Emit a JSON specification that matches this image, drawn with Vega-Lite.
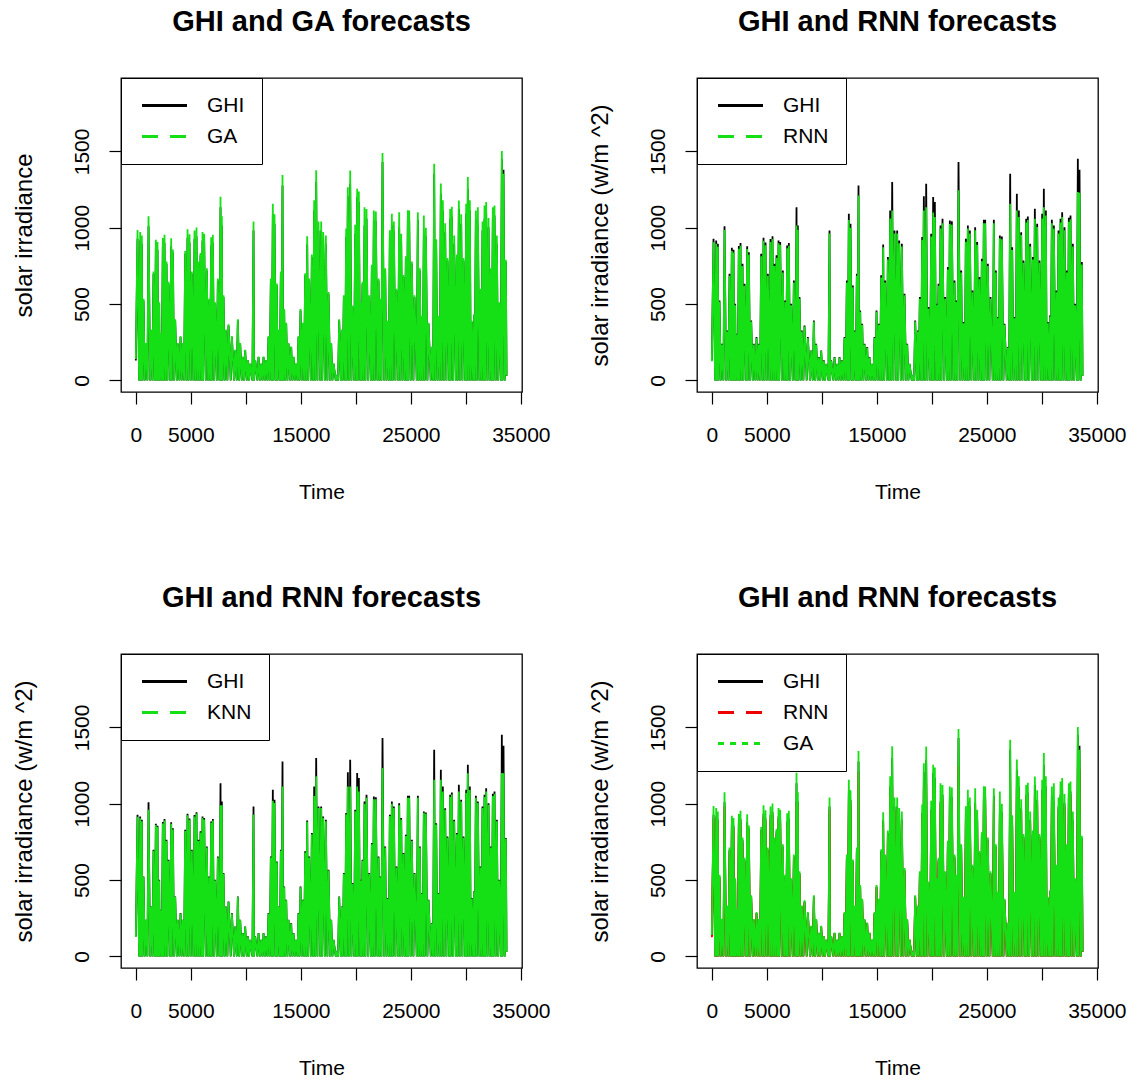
{
 "$schema": "https://vega.github.io/schema/vega-lite/v6.json",
 "background": "white",
 "padding": {"left": 11, "top": 6, "right": 5, "bottom": 0},
 "data": {"values": [
{"t":0,"GHI":130,"GA":140,"RNN":125,"KNN":128},
{"t":152,"GHI":928,"GA":985,"RNN":905,"KNN":915},
{"t":294,"GHI":0,"GA":0,"RNN":0,"KNN":0},
{"t":394,"GHI":917,"GA":972,"RNN":895,"KNN":905},
{"t":445,"GHI":0,"GA":0,"RNN":0,"KNN":0},
{"t":545,"GHI":895,"GA":950,"RNN":875,"KNN":885},
{"t":597,"GHI":0,"GA":0,"RNN":0,"KNN":0},
{"t":697,"GHI":524,"GA":535,"RNN":515,"KNN":520},
{"t":809,"GHI":0,"GA":0,"RNN":0,"KNN":0},
{"t":909,"GHI":240,"GA":245,"RNN":235,"KNN":238},
{"t":1052,"GHI":0,"GA":0,"RNN":0,"KNN":0},
{"t":1152,"GHI":1009,"GA":1075,"RNN":985,"KNN":960},
{"t":1294,"GHI":0,"GA":0,"RNN":0,"KNN":0},
{"t":1394,"GHI":327,"GA":334,"RNN":320,"KNN":324},
{"t":1506,"GHI":0,"GA":0,"RNN":0,"KNN":0},
{"t":1606,"GHI":699,"GA":713,"RNN":685,"KNN":692},
{"t":1718,"GHI":0,"GA":0,"RNN":0,"KNN":0},
{"t":1818,"GHI":869,"GA":921,"RNN":850,"KNN":860},
{"t":1870,"GHI":0,"GA":0,"RNN":0,"KNN":0},
{"t":1970,"GHI":856,"GA":907,"RNN":838,"KNN":847},
{"t":2021,"GHI":0,"GA":0,"RNN":0,"KNN":0},
{"t":2121,"GHI":502,"GA":512,"RNN":492,"KNN":497},
{"t":2173,"GHI":0,"GA":0,"RNN":0,"KNN":0},
{"t":2273,"GHI":306,"GA":312,"RNN":300,"KNN":303},
{"t":2354,"GHI":0,"GA":0,"RNN":0,"KNN":0},
{"t":2454,"GHI":880,"GA":933,"RNN":862,"KNN":871},
{"t":2506,"GHI":0,"GA":0,"RNN":0,"KNN":0},
{"t":2606,"GHI":900,"GA":954,"RNN":882,"KNN":891},
{"t":2688,"GHI":0,"GA":0,"RNN":0,"KNN":0},
{"t":2788,"GHI":764,"GA":779,"RNN":749,"KNN":756},
{"t":2870,"GHI":0,"GA":0,"RNN":0,"KNN":0},
{"t":2970,"GHI":633,"GA":646,"RNN":620,"KNN":627},
{"t":3112,"GHI":0,"GA":0,"RNN":0,"KNN":0},
{"t":3212,"GHI":878,"GA":931,"RNN":860,"KNN":869},
{"t":3263,"GHI":0,"GA":0,"RNN":0,"KNN":0},
{"t":3363,"GHI":840,"GA":857,"RNN":823,"KNN":832},
{"t":3476,"GHI":0,"GA":0,"RNN":0,"KNN":0},
{"t":3576,"GHI":393,"GA":401,"RNN":385,"KNN":389},
{"t":3718,"GHI":0,"GA":0,"RNN":0,"KNN":0},
{"t":3818,"GHI":240,"GA":245,"RNN":235,"KNN":238},
{"t":3961,"GHI":0,"GA":0,"RNN":0,"KNN":0},
{"t":4061,"GHI":284,"GA":290,"RNN":278,"KNN":281},
{"t":4173,"GHI":0,"GA":0,"RNN":0,"KNN":0},
{"t":4273,"GHI":240,"GA":245,"RNN":235,"KNN":238},
{"t":4385,"GHI":0,"GA":0,"RNN":0,"KNN":0},
{"t":4485,"GHI":830,"GA":847,"RNN":813,"KNN":822},
{"t":4597,"GHI":0,"GA":0,"RNN":0,"KNN":0},
{"t":4697,"GHI":934,"GA":990,"RNN":915,"KNN":925},
{"t":4779,"GHI":0,"GA":0,"RNN":0,"KNN":0},
{"t":4879,"GHI":904,"GA":958,"RNN":886,"KNN":895},
{"t":4991,"GHI":0,"GA":0,"RNN":0,"KNN":0},
{"t":5091,"GHI":699,"GA":713,"RNN":685,"KNN":692},
{"t":5233,"GHI":0,"GA":0,"RNN":0,"KNN":0},
{"t":5333,"GHI":926,"GA":982,"RNN":907,"KNN":917},
{"t":5415,"GHI":0,"GA":0,"RNN":0,"KNN":0},
{"t":5515,"GHI":945,"GA":1002,"RNN":926,"KNN":936},
{"t":5597,"GHI":0,"GA":0,"RNN":0,"KNN":0},
{"t":5697,"GHI":764,"GA":779,"RNN":749,"KNN":756},
{"t":5779,"GHI":0,"GA":0,"RNN":0,"KNN":0},
{"t":5879,"GHI":819,"GA":835,"RNN":803,"KNN":811},
{"t":5961,"GHI":0,"GA":0,"RNN":0,"KNN":0},
{"t":6061,"GHI":917,"GA":972,"RNN":899,"KNN":908},
{"t":6112,"GHI":0,"GA":0,"RNN":0,"KNN":0},
{"t":6212,"GHI":906,"GA":960,"RNN":888,"KNN":897},
{"t":6355,"GHI":0,"GA":0,"RNN":0,"KNN":0},
{"t":6455,"GHI":720,"GA":734,"RNN":706,"KNN":713},
{"t":6567,"GHI":0,"GA":0,"RNN":0,"KNN":0},
{"t":6667,"GHI":524,"GA":534,"RNN":514,"KNN":519},
{"t":6748,"GHI":0,"GA":0,"RNN":0,"KNN":0},
{"t":6848,"GHI":884,"GA":937,"RNN":866,"KNN":875},
{"t":6900,"GHI":0,"GA":0,"RNN":0,"KNN":0},
{"t":7000,"GHI":900,"GA":954,"RNN":882,"KNN":891},
{"t":7112,"GHI":0,"GA":0,"RNN":0,"KNN":0},
{"t":7212,"GHI":502,"GA":512,"RNN":492,"KNN":497},
{"t":7355,"GHI":0,"GA":0,"RNN":0,"KNN":0},
{"t":7455,"GHI":655,"GA":668,"RNN":642,"KNN":648},
{"t":7597,"GHI":0,"GA":0,"RNN":0,"KNN":0},
{"t":7697,"GHI":1135,"GA":1203,"RNN":1015,"KNN":990},
{"t":7740,"GHI":0,"GA":0,"RNN":0,"KNN":0},
{"t":7818,"GHI":1015,"GA":1076,"RNN":985,"KNN":990},
{"t":7870,"GHI":0,"GA":0,"RNN":0,"KNN":0},
{"t":7970,"GHI":546,"GA":557,"RNN":535,"KNN":541},
{"t":8082,"GHI":0,"GA":0,"RNN":0,"KNN":0},
{"t":8182,"GHI":327,"GA":334,"RNN":320,"KNN":324},
{"t":8324,"GHI":0,"GA":0,"RNN":0,"KNN":0},
{"t":8424,"GHI":360,"GA":367,"RNN":353,"KNN":356},
{"t":8627,"GHI":0,"GA":0,"RNN":0,"KNN":0},
{"t":8727,"GHI":284,"GA":290,"RNN":278,"KNN":281},
{"t":8930,"GHI":0,"GA":0,"RNN":0,"KNN":0},
{"t":9030,"GHI":196,"GA":200,"RNN":192,"KNN":194},
{"t":9173,"GHI":0,"GA":0,"RNN":0,"KNN":0},
{"t":9273,"GHI":393,"GA":401,"RNN":385,"KNN":389},
{"t":9385,"GHI":0,"GA":0,"RNN":0,"KNN":0},
{"t":9485,"GHI":240,"GA":245,"RNN":235,"KNN":238},
{"t":9627,"GHI":0,"GA":0,"RNN":0,"KNN":0},
{"t":9727,"GHI":153,"GA":156,"RNN":150,"KNN":151},
{"t":9839,"GHI":0,"GA":0,"RNN":0,"KNN":0},
{"t":9939,"GHI":196,"GA":200,"RNN":192,"KNN":194},
{"t":10082,"GHI":0,"GA":0,"RNN":0,"KNN":0},
{"t":10182,"GHI":131,"GA":134,"RNN":128,"KNN":130},
{"t":10294,"GHI":0,"GA":0,"RNN":0,"KNN":0},
{"t":10394,"GHI":109,"GA":111,"RNN":107,"KNN":108},
{"t":10597,"GHI":0,"GA":0,"RNN":0,"KNN":0},
{"t":10697,"GHI":982,"GA":1041,"RNN":962,"KNN":930},
{"t":10748,"GHI":0,"GA":0,"RNN":0,"KNN":0},
{"t":10848,"GHI":131,"GA":134,"RNN":128,"KNN":130},
{"t":11052,"GHI":0,"GA":0,"RNN":0,"KNN":0},
{"t":11152,"GHI":153,"GA":156,"RNN":150,"KNN":151},
{"t":11294,"GHI":0,"GA":0,"RNN":0,"KNN":0},
{"t":11394,"GHI":109,"GA":111,"RNN":107,"KNN":108},
{"t":11506,"GHI":0,"GA":0,"RNN":0,"KNN":0},
{"t":11606,"GHI":153,"GA":156,"RNN":150,"KNN":151},
{"t":11718,"GHI":0,"GA":0,"RNN":0,"KNN":0},
{"t":11818,"GHI":131,"GA":134,"RNN":128,"KNN":130},
{"t":11961,"GHI":0,"GA":0,"RNN":0,"KNN":0},
{"t":12061,"GHI":284,"GA":290,"RNN":278,"KNN":281},
{"t":12173,"GHI":0,"GA":0,"RNN":0,"KNN":0},
{"t":12273,"GHI":655,"GA":668,"RNN":642,"KNN":648},
{"t":12354,"GHI":0,"GA":0,"RNN":0,"KNN":0},
{"t":12454,"GHI":1092,"GA":1158,"RNN":1050,"KNN":1020},
{"t":12506,"GHI":0,"GA":0,"RNN":0,"KNN":0},
{"t":12606,"GHI":1026,"GA":1088,"RNN":1000,"KNN":1005},
{"t":12718,"GHI":0,"GA":0,"RNN":0,"KNN":0},
{"t":12818,"GHI":622,"GA":634,"RNN":610,"KNN":616},
{"t":12870,"GHI":0,"GA":0,"RNN":0,"KNN":0},
{"t":12970,"GHI":327,"GA":334,"RNN":320,"KNN":324},
{"t":13082,"GHI":0,"GA":0,"RNN":0,"KNN":0},
{"t":13182,"GHI":699,"GA":713,"RNN":685,"KNN":692},
{"t":13233,"GHI":0,"GA":0,"RNN":0,"KNN":0},
{"t":13333,"GHI":1277,"GA":1345,"RNN":1212,"KNN":1113},
{"t":13385,"GHI":0,"GA":0,"RNN":0,"KNN":0},
{"t":13485,"GHI":458,"GA":467,"RNN":449,"KNN":453},
{"t":13567,"GHI":0,"GA":0,"RNN":0,"KNN":0},
{"t":13667,"GHI":371,"GA":378,"RNN":364,"KNN":367},
{"t":13779,"GHI":0,"GA":0,"RNN":0,"KNN":0},
{"t":13879,"GHI":240,"GA":245,"RNN":235,"KNN":238},
{"t":14021,"GHI":0,"GA":0,"RNN":0,"KNN":0},
{"t":14121,"GHI":218,"GA":222,"RNN":214,"KNN":216},
{"t":14233,"GHI":0,"GA":0,"RNN":0,"KNN":0},
{"t":14333,"GHI":153,"GA":156,"RNN":150,"KNN":151},
{"t":14445,"GHI":0,"GA":0,"RNN":0,"KNN":0},
{"t":14545,"GHI":109,"GA":111,"RNN":107,"KNN":108},
{"t":14688,"GHI":0,"GA":0,"RNN":0,"KNN":0},
{"t":14788,"GHI":284,"GA":290,"RNN":278,"KNN":281},
{"t":14870,"GHI":0,"GA":0,"RNN":0,"KNN":0},
{"t":14970,"GHI":458,"GA":467,"RNN":449,"KNN":453},
{"t":15082,"GHI":0,"GA":0,"RNN":0,"KNN":0},
{"t":15182,"GHI":371,"GA":378,"RNN":364,"KNN":367},
{"t":15294,"GHI":0,"GA":0,"RNN":0,"KNN":0},
{"t":15394,"GHI":688,"GA":702,"RNN":674,"KNN":681},
{"t":15476,"GHI":0,"GA":0,"RNN":0,"KNN":0},
{"t":15576,"GHI":891,"GA":944,"RNN":873,"KNN":882},
{"t":15658,"GHI":0,"GA":0,"RNN":0,"KNN":0},
{"t":15758,"GHI":655,"GA":668,"RNN":642,"KNN":648},
{"t":15900,"GHI":0,"GA":0,"RNN":0,"KNN":0},
{"t":16000,"GHI":808,"GA":824,"RNN":792,"KNN":800},
{"t":16112,"GHI":0,"GA":0,"RNN":0,"KNN":0},
{"t":16212,"GHI":1113,"GA":1180,"RNN":1060,"KNN":1050},
{"t":16294,"GHI":0,"GA":0,"RNN":0,"KNN":0},
{"t":16394,"GHI":1299,"GA":1377,"RNN":1113,"KNN":1180},
{"t":16506,"GHI":0,"GA":0,"RNN":0,"KNN":0},
{"t":16606,"GHI":982,"GA":1041,"RNN":962,"KNN":972},
{"t":16748,"GHI":0,"GA":0,"RNN":0,"KNN":0},
{"t":16848,"GHI":982,"GA":1041,"RNN":962,"KNN":972},
{"t":16930,"GHI":0,"GA":0,"RNN":0,"KNN":0},
{"t":17030,"GHI":917,"GA":972,"RNN":899,"KNN":908},
{"t":17173,"GHI":0,"GA":0,"RNN":0,"KNN":0},
{"t":17273,"GHI":895,"GA":949,"RNN":877,"KNN":886},
{"t":17415,"GHI":0,"GA":0,"RNN":0,"KNN":0},
{"t":17515,"GHI":568,"GA":579,"RNN":557,"KNN":562},
{"t":17658,"GHI":0,"GA":0,"RNN":0,"KNN":0},
{"t":17758,"GHI":240,"GA":245,"RNN":235,"KNN":238},
{"t":17870,"GHI":0,"GA":0,"RNN":0,"KNN":0},
{"t":17970,"GHI":109,"GA":111,"RNN":107,"KNN":108},
{"t":18173,"GHI":0,"GA":0,"RNN":0,"KNN":0},
{"t":18273,"GHI":22,"GA":22,"RNN":22,"KNN":22},
{"t":18385,"GHI":0,"GA":0,"RNN":0,"KNN":0},
{"t":18485,"GHI":393,"GA":401,"RNN":385,"KNN":389},
{"t":18627,"GHI":0,"GA":0,"RNN":0,"KNN":0},
{"t":18727,"GHI":327,"GA":334,"RNN":320,"KNN":324},
{"t":18809,"GHI":0,"GA":0,"RNN":0,"KNN":0},
{"t":18909,"GHI":546,"GA":557,"RNN":535,"KNN":541},
{"t":19021,"GHI":0,"GA":0,"RNN":0,"KNN":0},
{"t":19121,"GHI":939,"GA":995,"RNN":920,"KNN":930},
{"t":19173,"GHI":0,"GA":0,"RNN":0,"KNN":0},
{"t":19273,"GHI":1207,"GA":1266,"RNN":1113,"KNN":1113},
{"t":19385,"GHI":0,"GA":0,"RNN":0,"KNN":0},
{"t":19485,"GHI":1288,"GA":1375,"RNN":1135,"KNN":1113},
{"t":19597,"GHI":0,"GA":0,"RNN":0,"KNN":0},
{"t":19697,"GHI":480,"GA":490,"RNN":470,"KNN":475},
{"t":19839,"GHI":0,"GA":0,"RNN":0,"KNN":0},
{"t":19939,"GHI":961,"GA":1019,"RNN":942,"KNN":951},
{"t":20021,"GHI":0,"GA":0,"RNN":0,"KNN":0},
{"t":20121,"GHI":1201,"GA":1255,"RNN":1100,"KNN":1113},
{"t":20173,"GHI":0,"GA":0,"RNN":0,"KNN":0},
{"t":20273,"GHI":1168,"GA":1238,"RNN":1070,"KNN":1080},
{"t":20385,"GHI":0,"GA":0,"RNN":0,"KNN":0},
{"t":20485,"GHI":502,"GA":512,"RNN":492,"KNN":497},
{"t":20506,"GHI":0,"GA":0,"RNN":0,"KNN":0},
{"t":20606,"GHI":633,"GA":646,"RNN":620,"KNN":627},
{"t":20688,"GHI":0,"GA":0,"RNN":0,"KNN":0},
{"t":20788,"GHI":1015,"GA":1135,"RNN":995,"KNN":1000},
{"t":20870,"GHI":0,"GA":0,"RNN":0,"KNN":0},
{"t":20970,"GHI":1059,"GA":1122,"RNN":1030,"KNN":1040},
{"t":21112,"GHI":0,"GA":0,"RNN":0,"KNN":0},
{"t":21212,"GHI":546,"GA":557,"RNN":535,"KNN":541},
{"t":21355,"GHI":0,"GA":0,"RNN":0,"KNN":0},
{"t":21455,"GHI":742,"GA":757,"RNN":727,"KNN":735},
{"t":21536,"GHI":0,"GA":0,"RNN":0,"KNN":0},
{"t":21636,"GHI":1048,"GA":1113,"RNN":1025,"KNN":1030},
{"t":21718,"GHI":0,"GA":0,"RNN":0,"KNN":0},
{"t":21818,"GHI":1043,"GA":1106,"RNN":1020,"KNN":1030},
{"t":21961,"GHI":0,"GA":0,"RNN":0,"KNN":0},
{"t":22061,"GHI":655,"GA":668,"RNN":642,"KNN":648},
{"t":22142,"GHI":0,"GA":0,"RNN":0,"KNN":0},
{"t":22242,"GHI":524,"GA":534,"RNN":514,"KNN":519},
{"t":22324,"GHI":0,"GA":0,"RNN":0,"KNN":0},
{"t":22424,"GHI":1430,"GA":1489,"RNN":1245,"KNN":1234},
{"t":22567,"GHI":0,"GA":0,"RNN":0,"KNN":0},
{"t":22667,"GHI":720,"GA":734,"RNN":706,"KNN":713},
{"t":22779,"GHI":0,"GA":0,"RNN":0,"KNN":0},
{"t":22879,"GHI":382,"GA":390,"RNN":374,"KNN":378},
{"t":22991,"GHI":0,"GA":0,"RNN":0,"KNN":0},
{"t":23091,"GHI":928,"GA":984,"RNN":909,"KNN":919},
{"t":23173,"GHI":0,"GA":0,"RNN":0,"KNN":0},
{"t":23273,"GHI":1015,"GA":1092,"RNN":995,"KNN":1000},
{"t":23355,"GHI":0,"GA":0,"RNN":0,"KNN":0},
{"t":23455,"GHI":982,"GA":1041,"RNN":962,"KNN":972},
{"t":23597,"GHI":0,"GA":0,"RNN":0,"KNN":0},
{"t":23697,"GHI":589,"GA":601,"RNN":577,"KNN":583},
{"t":23839,"GHI":0,"GA":0,"RNN":0,"KNN":0},
{"t":23939,"GHI":1004,"GA":1102,"RNN":984,"KNN":990},
{"t":24021,"GHI":0,"GA":0,"RNN":0,"KNN":0},
{"t":24121,"GHI":906,"GA":960,"RNN":888,"KNN":897},
{"t":24233,"GHI":0,"GA":0,"RNN":0,"KNN":0},
{"t":24333,"GHI":677,"GA":691,"RNN":663,"KNN":670},
{"t":24445,"GHI":0,"GA":0,"RNN":0,"KNN":0},
{"t":24545,"GHI":797,"GA":813,"RNN":781,"KNN":789},
{"t":24627,"GHI":0,"GA":0,"RNN":0,"KNN":0},
{"t":24727,"GHI":1052,"GA":1115,"RNN":1030,"KNN":1040},
{"t":24770,"GHI":0,"GA":0,"RNN":0,"KNN":0},
{"t":24848,"GHI":1052,"GA":1113,"RNN":1030,"KNN":1040},
{"t":24991,"GHI":0,"GA":0,"RNN":0,"KNN":0},
{"t":25091,"GHI":764,"GA":779,"RNN":749,"KNN":756},
{"t":25233,"GHI":0,"GA":0,"RNN":0,"KNN":0},
{"t":25333,"GHI":546,"GA":557,"RNN":535,"KNN":541},
{"t":25536,"GHI":0,"GA":0,"RNN":0,"KNN":0},
{"t":25636,"GHI":1052,"GA":1102,"RNN":1030,"KNN":1040},
{"t":25718,"GHI":0,"GA":0,"RNN":0,"KNN":0},
{"t":25818,"GHI":720,"GA":734,"RNN":706,"KNN":713},
{"t":25900,"GHI":0,"GA":0,"RNN":0,"KNN":0},
{"t":26000,"GHI":415,"GA":423,"RNN":407,"KNN":411},
{"t":26082,"GHI":0,"GA":0,"RNN":0,"KNN":0},
{"t":26182,"GHI":950,"GA":1081,"RNN":931,"KNN":941},
{"t":26264,"GHI":0,"GA":0,"RNN":0,"KNN":0},
{"t":26364,"GHI":943,"GA":1000,"RNN":924,"KNN":934},
{"t":26506,"GHI":0,"GA":0,"RNN":0,"KNN":0},
{"t":26606,"GHI":371,"GA":378,"RNN":364,"KNN":367},
{"t":26809,"GHI":0,"GA":0,"RNN":0,"KNN":0},
{"t":26909,"GHI":218,"GA":222,"RNN":214,"KNN":216},
{"t":27021,"GHI":0,"GA":0,"RNN":0,"KNN":0},
{"t":27121,"GHI":1353,"GA":1419,"RNN":1157,"KNN":1157},
{"t":27203,"GHI":0,"GA":0,"RNN":0,"KNN":0},
{"t":27303,"GHI":873,"GA":925,"RNN":855,"KNN":864},
{"t":27415,"GHI":0,"GA":0,"RNN":0,"KNN":0},
{"t":27515,"GHI":415,"GA":423,"RNN":407,"KNN":411},
{"t":27627,"GHI":0,"GA":0,"RNN":0,"KNN":0},
{"t":27727,"GHI":1222,"GA":1290,"RNN":1113,"KNN":1157},
{"t":27809,"GHI":0,"GA":0,"RNN":0,"KNN":0},
{"t":27909,"GHI":1113,"GA":1180,"RNN":1070,"KNN":1080},
{"t":28021,"GHI":0,"GA":0,"RNN":0,"KNN":0},
{"t":28121,"GHI":971,"GA":1029,"RNN":952,"KNN":961},
{"t":28233,"GHI":0,"GA":0,"RNN":0,"KNN":0},
{"t":28333,"GHI":786,"GA":802,"RNN":770,"KNN":778},
{"t":28476,"GHI":0,"GA":0,"RNN":0,"KNN":0},
{"t":28576,"GHI":1059,"GA":1122,"RNN":1035,"KNN":1045},
{"t":28627,"GHI":0,"GA":0,"RNN":0,"KNN":0},
{"t":28727,"GHI":1074,"GA":1138,"RNN":1050,"KNN":1060},
{"t":28839,"GHI":0,"GA":0,"RNN":0,"KNN":0},
{"t":28939,"GHI":895,"GA":949,"RNN":877,"KNN":886},
{"t":29082,"GHI":0,"GA":0,"RNN":0,"KNN":0},
{"t":29182,"GHI":808,"GA":824,"RNN":792,"KNN":800},
{"t":29264,"GHI":0,"GA":0,"RNN":0,"KNN":0},
{"t":29364,"GHI":1124,"GA":1179,"RNN":1059,"KNN":1080},
{"t":29476,"GHI":0,"GA":0,"RNN":0,"KNN":0},
{"t":29576,"GHI":1026,"GA":1088,"RNN":1005,"KNN":1015},
{"t":29688,"GHI":0,"GA":0,"RNN":0,"KNN":0},
{"t":29788,"GHI":786,"GA":802,"RNN":770,"KNN":778},
{"t":29930,"GHI":0,"GA":0,"RNN":0,"KNN":0},
{"t":30030,"GHI":1092,"GA":1158,"RNN":1060,"KNN":1070},
{"t":30082,"GHI":0,"GA":0,"RNN":0,"KNN":0},
{"t":30182,"GHI":1255,"GA":1332,"RNN":1135,"KNN":1200},
{"t":30264,"GHI":0,"GA":0,"RNN":0,"KNN":0},
{"t":30364,"GHI":1113,"GA":1180,"RNN":1080,"KNN":1090},
{"t":30445,"GHI":0,"GA":0,"RNN":0,"KNN":0},
{"t":30545,"GHI":382,"GA":390,"RNN":374,"KNN":378},
{"t":30658,"GHI":0,"GA":0,"RNN":0,"KNN":0},
{"t":30758,"GHI":426,"GA":435,"RNN":417,"KNN":422},
{"t":30809,"GHI":0,"GA":0,"RNN":0,"KNN":0},
{"t":30909,"GHI":1052,"GA":1113,"RNN":1030,"KNN":1040},
{"t":30991,"GHI":0,"GA":0,"RNN":0,"KNN":0},
{"t":31091,"GHI":1015,"GA":1135,"RNN":995,"KNN":1005},
{"t":31233,"GHI":0,"GA":0,"RNN":0,"KNN":0},
{"t":31333,"GHI":589,"GA":601,"RNN":577,"KNN":583},
{"t":31415,"GHI":0,"GA":0,"RNN":0,"KNN":0},
{"t":31515,"GHI":982,"GA":1041,"RNN":962,"KNN":972},
{"t":31597,"GHI":0,"GA":0,"RNN":0,"KNN":0},
{"t":31697,"GHI":1059,"GA":1146,"RNN":1035,"KNN":1045},
{"t":31748,"GHI":0,"GA":0,"RNN":0,"KNN":0},
{"t":31848,"GHI":1102,"GA":1168,"RNN":1070,"KNN":1080},
{"t":31961,"GHI":0,"GA":0,"RNN":0,"KNN":0},
{"t":32061,"GHI":1004,"GA":1064,"RNN":984,"KNN":994},
{"t":32173,"GHI":0,"GA":0,"RNN":0,"KNN":0},
{"t":32273,"GHI":720,"GA":734,"RNN":706,"KNN":713},
{"t":32354,"GHI":0,"GA":0,"RNN":0,"KNN":0},
{"t":32454,"GHI":1065,"GA":1135,"RNN":1040,"KNN":1050},
{"t":32506,"GHI":0,"GA":0,"RNN":0,"KNN":0},
{"t":32606,"GHI":1081,"GA":1146,"RNN":1055,"KNN":1065},
{"t":32718,"GHI":0,"GA":0,"RNN":0,"KNN":0},
{"t":32818,"GHI":895,"GA":949,"RNN":877,"KNN":886},
{"t":32930,"GHI":0,"GA":0,"RNN":0,"KNN":0},
{"t":33030,"GHI":502,"GA":512,"RNN":492,"KNN":497},
{"t":33173,"GHI":0,"GA":0,"RNN":0,"KNN":0},
{"t":33273,"GHI":1452,"GA":1502,"RNN":1234,"KNN":1201},
{"t":33324,"GHI":0,"GA":0,"RNN":0,"KNN":0},
{"t":33424,"GHI":1380,"GA":1353,"RNN":1230,"KNN":1200},
{"t":33536,"GHI":0,"GA":0,"RNN":0,"KNN":0},
{"t":33636,"GHI":775,"GA":790,"RNN":760,"KNN":770},
{"t":33700,"GHI":30,"GA":32,"RNN":30,"KNN":30}
 ]},
 "columns": 2,
 "spacing": {"row": 262, "column": 175},
 "bounds": "flush",
 "resolve": {"scale": {"color": "independent"}, "legend": {"color": "independent"}},
 "concat": [
  {
   "width": 401, "height": 314,
   "title": {"text": "GHI and GA forecasts"},
   "encoding": {"x": {"field": "t", "type": "quantitative", "title": "Time", "scale": {"domain": [-1350, 35105], "nice": false, "zero": false}, "axis": {"values": [0, 5000, 10000, 15000, 20000, 25000, 30000, 35000]}}},
   "layer": [
    {"mark": {"type": "line", "strokeWidth": 1.8},
     "encoding": {
      "y": {"field": "GHI", "type": "quantitative", "title": "solar irradiance", "scale": {"domain": [-76, 1981], "nice": false, "zero": false}, "axis": {"values": [0, 500, 1000, 1500]}},
      "color": {"datum": "GHI", "type": "nominal", "scale": {"domain": ["GHI", "GA"], "range": ["#000000", "#15e015"]},
       "legend": {"title": null, "encode": {"symbols": {"update": {"strokeDash": {"signal": "datum.value === 'GHI' ? [1,0] : [16,12]"}}}}}}
     }},
    {"mark": {"type": "line", "strokeWidth": 1.8},
     "encoding": {
      "y": {"field": "GA", "type": "quantitative", "title": "solar irradiance", "axis": {"values": [0, 500, 1000, 1500]}},
      "color": {"datum": "GA", "type": "nominal"}
     }}
   ]
  },
  {
   "width": 401, "height": 314,
   "title": {"text": "GHI and RNN forecasts"},
   "encoding": {"x": {"field": "t", "type": "quantitative", "title": "Time", "scale": {"domain": [-1350, 35105], "nice": false, "zero": false}, "axis": {"values": [0, 5000, 10000, 15000, 20000, 25000, 30000, 35000]}}},
   "layer": [
    {"mark": {"type": "line", "strokeWidth": 1.8},
     "encoding": {
      "y": {"field": "GHI", "type": "quantitative", "title": "solar irradiance (w/m ^2)", "scale": {"domain": [-76, 1981], "nice": false, "zero": false}, "axis": {"values": [0, 500, 1000, 1500]}},
      "color": {"datum": "GHI", "type": "nominal", "scale": {"domain": ["GHI", "RNN"], "range": ["#000000", "#15e015"]},
       "legend": {"title": null, "encode": {"symbols": {"update": {"strokeDash": {"signal": "datum.value === 'GHI' ? [1,0] : [16,12]"}}}}}}
     }},
    {"mark": {"type": "line", "strokeWidth": 1.8},
     "encoding": {
      "y": {"field": "RNN", "type": "quantitative", "title": "solar irradiance (w/m ^2)", "axis": {"values": [0, 500, 1000, 1500]}},
      "color": {"datum": "RNN", "type": "nominal"}
     }}
   ]
  },
  {
   "width": 401, "height": 314,
   "title": {"text": "GHI and RNN forecasts"},
   "encoding": {"x": {"field": "t", "type": "quantitative", "title": "Time", "scale": {"domain": [-1350, 35105], "nice": false, "zero": false}, "axis": {"values": [0, 5000, 10000, 15000, 20000, 25000, 30000, 35000]}}},
   "layer": [
    {"mark": {"type": "line", "strokeWidth": 1.8},
     "encoding": {
      "y": {"field": "GHI", "type": "quantitative", "title": "solar irradiance (w/m ^2)", "scale": {"domain": [-76, 1981], "nice": false, "zero": false}, "axis": {"values": [0, 500, 1000, 1500]}},
      "color": {"datum": "GHI", "type": "nominal", "scale": {"domain": ["GHI", "KNN"], "range": ["#000000", "#15e015"]},
       "legend": {"title": null, "encode": {"symbols": {"update": {"strokeDash": {"signal": "datum.value === 'GHI' ? [1,0] : [16,12]"}}}}}}
     }},
    {"mark": {"type": "line", "strokeWidth": 1.8},
     "encoding": {
      "y": {"field": "KNN", "type": "quantitative", "title": "solar irradiance (w/m ^2)", "axis": {"values": [0, 500, 1000, 1500]}},
      "color": {"datum": "KNN", "type": "nominal"}
     }}
   ]
  },
  {
   "width": 401, "height": 314,
   "title": {"text": "GHI and RNN forecasts"},
   "encoding": {"x": {"field": "t", "type": "quantitative", "title": "Time", "scale": {"domain": [-1350, 35105], "nice": false, "zero": false}, "axis": {"values": [0, 5000, 10000, 15000, 20000, 25000, 30000, 35000]}}},
   "layer": [
    {"mark": {"type": "line", "strokeWidth": 1.8},
     "encoding": {
      "y": {"field": "GHI", "type": "quantitative", "title": "solar irradiance (w/m ^2)", "scale": {"domain": [-76, 1981], "nice": false, "zero": false}, "axis": {"values": [0, 500, 1000, 1500]}},
      "color": {"datum": "GHI", "type": "nominal", "scale": {"domain": ["GHI", "RNN", "GA"], "range": ["#000000", "#ee0000", "#15e015"]},
       "legend": {"title": null, "encode": {"symbols": {"update": {"strokeDash": {"signal": "datum.value === 'GHI' ? [1,0] : datum.value === 'RNN' ? [16,12] : [6,6]"}}}}}}
     }},
    {"mark": {"type": "line", "strokeWidth": 1.8},
     "encoding": {
      "y": {"field": "RNN", "type": "quantitative", "title": "solar irradiance (w/m ^2)", "axis": {"values": [0, 500, 1000, 1500]}},
      "color": {"datum": "RNN", "type": "nominal"}
     }},
    {"mark": {"type": "line", "strokeWidth": 1.8},
     "encoding": {
      "y": {"field": "GA", "type": "quantitative", "title": "solar irradiance (w/m ^2)", "axis": {"values": [0, 500, 1000, 1500]}},
      "color": {"datum": "GA", "type": "nominal"}
     }}
   ]
  }
 ],
 "config": {
  "font": "Liberation Sans",
  "view": {"stroke": "#000000", "strokeWidth": 1.3},
  "title": {"font": "Liberation Sans", "fontSize": 29, "fontWeight": "bold", "color": "#000000", "frame": "group", "anchor": "middle", "baseline": "alphabetic", "offset": 41},
  "axis": {"domain": false, "grid": false, "ticks": true, "tickColor": "#000000", "tickSize": 12, "tickWidth": 1.2, "labelColor": "#000000", "labelFont": "Liberation Sans", "labelFontSize": 21, "titleFont": "Liberation Sans", "titleFontSize": 21, "titleFontWeight": "normal", "titleColor": "#000000", "labelOverlap": false, "labelFlush": false, "format": "d"},
  "axisX": {"labelExpr": "datum.value == 10000 || datum.value == 20000 || datum.value == 30000 ? '' : datum.label", "labelPadding": 20, "titlePadding": 36},
  "axisY": {"labelAngle": 270, "labelAlign": "center", "labelBaseline": "bottom", "labelPadding": 17, "titlePadding": 35, "titleFontSize": 24},
  "legend": {"orient": "top-left", "offset": 0, "padding": 17, "strokeColor": "#000000", "fillColor": "#ffffff", "labelFont": "Liberation Sans", "labelFontSize": 21, "labelColor": "#000000", "symbolType": "M-3,0H3", "symbolSize": 225, "symbolStrokeWidth": 3, "symbolOffset": 16, "labelOffset": 32, "rowPadding": 9}
 }
}
